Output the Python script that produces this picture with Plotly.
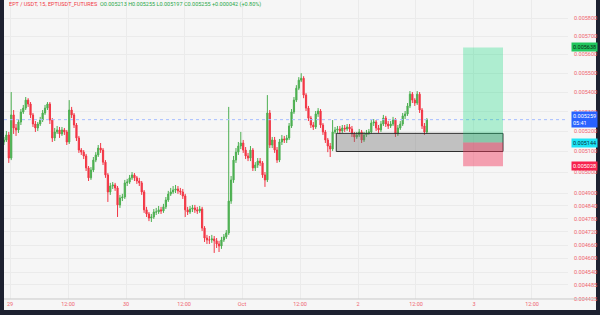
import math
import pandas as pd
import plotly.graph_objects as go

# ---------------- data ----------------
symbol_title = "EPT / USDT, 15, EPTUSDT_FUTURES"
ohlc_text = "O0.005213 H0.005255 L0.005197 C0.005255 +0.000042 (+0.80%)"

first_open = 0.005147
closes = [
    0.005157,0.005182,0.005068,0.005283,0.005217,0.005207,0.005247,0.005298,0.005318,0.005359,
    0.005339,0.005283,0.005237,0.005217,0.005237,0.005257,0.005293,0.005318,0.005339,0.005257,
    0.005167,0.005197,0.005207,0.005187,0.005207,0.005197,0.005147,0.005308,0.005283,0.005232,
    0.005167,0.005107,0.005097,0.005078,0.005020,0.004972,0.005010,0.005058,0.005083,0.005117,
    0.005107,0.005048,0.004986,0.004905,
    0.004933,0.004938,0.004924,0.004844,0.004877,0.004881,0.004948,0.004952,0.004972,0.004986,
    0.004972,0.004957,0.004948,0.004905,0.004821,0.004802,0.004783,0.004788,0.004811,0.004811,
    0.004821,0.004816,0.004835,0.004867,0.004895,0.004905,0.004914,0.004919,0.004910,0.004905,
    0.004886,0.004821,0.004811,0.004825,0.004830,0.004821,0.004816,0.004825,0.004737,0.004692,
    0.004683,
    0.004683,0.004688,0.004679,0.004665,0.004656,0.004683,0.004697,0.004715,0.004862,0.004962,
    0.005058,0.005097,0.005127,0.005142,0.005107,0.005078,0.005068,0.005107,0.005020,0.005034,
    0.005053,0.005044,0.004986,0.004962,0.005293,0.005132,0.005157,0.005107,0.005058,0.005147,
    0.005162,0.005157,0.005167,0.005227,0.005298,0.005359,0.005421,0.005463,0.005473,0.005385,
    0.005318,0.005267,
    0.005232,0.005222,0.005288,0.005303,0.005232,0.005197,0.005157,0.005127,0.005112,0.005197,
    0.005207,0.005212,0.005202,0.005217,0.005212,0.005222,0.005212,0.005187,0.005172,0.005182,
    0.005197,0.005157,0.005182,0.005192,0.005197,0.005242,0.005247,0.005217,0.005207,0.005237,
    0.005267,0.005237,0.005227,0.005237,0.005257,0.005187,0.005217,0.005237,0.005278,0.005288,
    0.005329,0.005390,0.005359,0.005344,0.005390,0.005308,0.005227,0.005197,0.005259,
]
highs = [
    0.005172,0.005202,0.005197,0.005401,0.005308,0.005237,0.005262,0.005313,0.005334,0.005375,
    0.005369,0.005349,0.005293,0.005252,0.005247,0.005273,0.005308,0.005334,0.005349,0.005349,
    0.005267,0.005217,0.005227,0.005222,0.005222,0.005217,0.005207,0.005359,0.005324,0.005293,
    0.005242,0.005177,0.005117,0.005107,0.005088,0.005029,0.005024,0.005073,0.005097,0.005132,
    0.005142,0.005117,0.005058,0.004995,
    0.004948,0.004952,0.004948,0.004933,0.004891,0.004896,0.004962,0.004967,0.004986,0.005000,
    0.004995,0.004981,0.004972,0.004957,0.004914,0.004835,0.004811,0.004802,0.004825,0.004830,
    0.004839,0.004835,0.004849,0.004881,0.004910,0.004924,0.004933,0.004938,0.004933,0.004924,
    0.004919,0.004896,0.004835,0.004839,0.004844,0.004844,0.004835,0.004839,0.004835,0.004746,
    0.004706,
    0.004701,0.004706,0.004701,0.004692,0.004679,0.004697,0.004710,0.004728,0.005324,0.004981,
    0.005078,0.005117,0.005147,0.005197,0.005157,0.005122,0.005093,0.005127,0.005117,0.005048,
    0.005068,0.005068,0.005053,0.005000,0.005385,0.005308,0.005172,0.005172,0.005122,0.005162,
    0.005182,0.005177,0.005182,0.005242,0.005313,0.005375,0.005437,0.005479,0.005500,0.005484,
    0.005395,0.005329,
    0.005278,0.005247,0.005303,0.005318,0.005313,0.005242,0.005207,0.005167,0.005142,0.005257,
    0.005222,0.005227,0.005227,0.005232,0.005232,0.005237,0.005237,0.005227,0.005197,0.005197,
    0.005212,0.005207,0.005197,0.005207,0.005212,0.005257,0.005262,0.005257,0.005232,0.005252,
    0.005283,0.005278,0.005252,0.005252,0.005273,0.005267,0.005232,0.005252,0.005293,0.005303,
    0.005344,0.005406,0.005401,0.005369,0.005406,0.005401,0.005318,0.005242,0.005267,
]
lows = [
    0.005132,0.005147,0.005044,0.005058,0.005187,0.005177,0.005192,0.005232,0.005288,0.005308,
    0.005324,0.005267,0.005222,0.005197,0.005202,0.005227,0.005247,0.005283,0.005308,0.005237,
    0.005147,0.005152,0.005187,0.005167,0.005177,0.005182,0.005132,0.005137,0.005267,0.005217,
    0.005152,0.005093,0.005083,0.005063,0.005005,0.004957,0.004962,0.005000,0.005048,0.005073,
    0.005093,0.005034,0.004972,0.004858,
    0.004891,0.004919,0.004910,0.004788,0.004830,0.004862,0.004872,0.004933,0.004943,0.004962,
    0.004957,0.004943,0.004933,0.004891,0.004807,0.004788,0.004769,0.004765,0.004779,0.004797,
    0.004802,0.004802,0.004807,0.004825,0.004858,0.004886,0.004896,0.004900,0.004896,0.004891,
    0.004872,0.004788,0.004797,0.004802,0.004811,0.004807,0.004802,0.004807,0.004724,0.004674,
    0.004665,
    0.004665,0.004670,0.004625,0.004647,0.004629,0.004643,0.004674,0.004688,0.004706,0.004849,
    0.004948,0.005044,0.005083,0.005112,0.005093,0.005063,0.005053,0.005053,0.005005,0.005005,
    0.005020,0.005029,0.004972,0.004929,0.004952,0.005117,0.005117,0.005093,0.005044,0.005048,
    0.005132,0.005142,0.005142,0.005157,0.005217,0.005288,0.005349,0.005411,0.005453,0.005369,
    0.005303,0.005252,
    0.005217,0.005207,0.005212,0.005273,0.005217,0.005182,0.005142,0.005097,0.005073,0.005102,
    0.005187,0.005192,0.005187,0.005192,0.005197,0.005202,0.005197,0.005172,0.005147,0.005162,
    0.005172,0.005142,0.005147,0.005172,0.005182,0.005187,0.005227,0.005202,0.005192,0.005197,
    0.005227,0.005222,0.005212,0.005217,0.005227,0.005172,0.005177,0.005207,0.005227,0.005262,
    0.005278,0.005318,0.005344,0.005329,0.005334,0.005293,0.005212,0.005182,0.005187,
]
opens = [first_open] + closes[:-1]
times = pd.date_range("2024-09-28 22:45", periods=len(closes), freq="30min")

x_tick_vals = list(pd.date_range("2024-09-29 00:00", periods=10, freq="12h"))
x_tick_text = ["29", "12:00", "30", "12:00", "Oct", "12:00", "2", "12:00", "3", "12:00"]
y_tick_vals = [0.0058, 0.0057, 0.0056, 0.0055, 0.0054, 0.0053, 0.0052, 0.0051, 0.0050,
               0.0049, 0.00484, 0.00478, 0.00472, 0.00466, 0.0046, 0.00454, 0.004485, 0.004425]
y_tick_text = [f"{v:.6f}" for v in y_tick_vals]

current_price = 0.005259
countdown = "05:41"
target_price = 0.005638
entry_price = 0.005144
stop_price = 0.005028
zone_top = 0.005190
zone_bottom = 0.005100
zone_start, zone_end = "2024-10-01 19:30", "2024-10-03 06:00"
pos_start, pos_end = "2024-10-02 21:45", "2024-10-03 06:00"

x_range = ["2024-09-28 22:45:30", "2024-10-03 19:27"]
y_range = [0.004424, 0.005902]

# ---------------- styling ----------------
FRAME = "#1d2130"
BG = "#f6f6f6"
GRID = "#ebebeb"
LABEL = "#ef6570"
UP = "#4caf50"
DOWN = "#f23645"
FONT = "Roboto"

W, H = 600, 315
ml, mr, mt, mb = 4, 32, 0, 16
pw, ph = W - ml - mr, H - mt - mb

fig = go.Figure()


def rect(x0, x1, y0, y1, fill, line_color, lw):
    return go.Scatter(x=[x0, x1, x1, x0, x0], y=[y0, y0, y1, y1, y0], mode="lines",
                      fill="toself", fillcolor=fill,
                      line=dict(color=line_color, width=lw),
                      hoverinfo="skip", showlegend=False)


fig.add_trace(rect(zone_start, zone_end, zone_bottom, zone_top,
                   "rgba(120,120,120,0.42)", "#2f2f2f", 1))

fig.add_trace(go.Scatter(x=[x_range[0], x_range[1]], y=[current_price, current_price],
                         mode="lines", line=dict(color="#a6bdff", width=1, dash="dot"),
                         hoverinfo="skip", showlegend=False))

fig.add_trace(go.Candlestick(
    x=times, open=opens, high=highs, low=lows, close=closes,
    increasing=dict(line=dict(color=UP, width=1), fillcolor=UP),
    decreasing=dict(line=dict(color=DOWN, width=1), fillcolor=DOWN),
    whiskerwidth=0, hoverinfo="skip", showlegend=False))

fig.add_trace(rect(pos_start, pos_end, entry_price, target_price,
                   "rgba(8,214,120,0.30)", "rgba(0,0,0,0)", 0))
fig.add_trace(rect(pos_start, pos_end, stop_price, entry_price,
                   "rgba(242,54,92,0.45)", "rgba(0,0,0,0)", 0))

# light chart panel and separator line
panel_right = (W - 4 - ml) / pw
fig.add_shape(type="rect", xref="paper", yref="paper", x0=0, x1=panel_right,
              y0=-11 / ph, y1=1.0, fillcolor=BG, line=dict(width=0), layer="below")
fig.add_shape(type="line", xref="paper", yref="paper", x0=0, x1=panel_right, y0=0, y1=0,
              line=dict(color="#c9c9c9", width=1))

# price badges
badges = [
    (target_price, f"{target_price:.6f}", "#21c55d", "#0b2a16"),
    (current_price, f"{current_price:.6f}<br>{countdown}", "#2962ff", "#ffffff"),
    (entry_price, f"{entry_price:.6f}", "#1ee3f5", "#06303a"),
    (stop_price, f"{stop_price:.6f}", "#f7234e", "#ffffff"),
]
for val, txt, bg, fg in badges:
    fig.add_annotation(x=1.0, xref="paper", xanchor="left", xshift=3,
                       y=math.log10(val), yref="y", yanchor="middle",
                       text=txt, showarrow=False, align="left",
                       font=dict(family=FONT, size=5.5, color=fg),
                       bgcolor=bg, borderpad=1)

fig.add_annotation(x=3 / pw, xref="paper", xanchor="left", y=1.0, yref="paper", yanchor="top",
                   yshift=1, showarrow=False,
                   text=f"<span style='color:{DOWN}'>{symbol_title}</span>  "
                        f"<span style='color:#2aa84a'>{ohlc_text}</span>",
                   font=dict(family=FONT, size=5.5))

fig.update_layout(
    width=W, height=H,
    margin=dict(l=ml, r=mr, t=mt, b=mb),
    paper_bgcolor=FRAME, plot_bgcolor=BG,
    showlegend=False, hovermode=False,
    xaxis=dict(type="date", range=x_range, rangeslider=dict(visible=False),
               tickvals=x_tick_vals, ticktext=x_tick_text, showgrid=True,
               gridcolor=GRID, gridwidth=1, zeroline=False, showline=False,
               ticks="", tickfont=dict(family=FONT, size=5.5, color=LABEL)),
    yaxis=dict(type="log", range=[math.log10(y_range[0]), math.log10(y_range[1])],
               side="right", tickvals=y_tick_vals, ticktext=y_tick_text,
               showgrid=True, gridcolor=GRID, gridwidth=1, zeroline=False,
               showline=False, ticks="", ticklabelstandoff=5,
               tickfont=dict(family=FONT, size=5.5, color=LABEL)),
)

fig.write_html("out.html")
